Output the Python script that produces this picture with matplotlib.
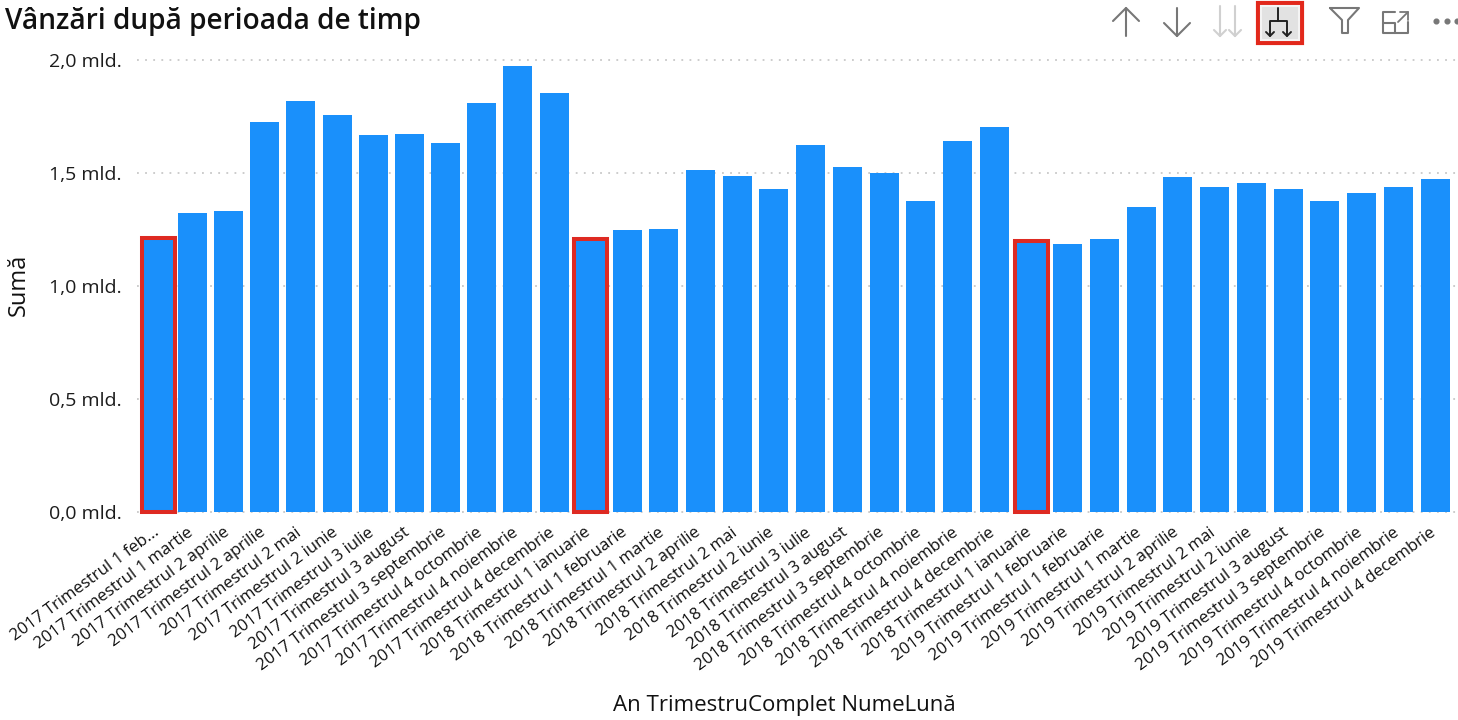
import matplotlib
matplotlib.use("Agg")
import matplotlib.pyplot as plt
from matplotlib.patches import Rectangle
import numpy as np

plt.rcParams['font.family'] = ['Open Sans', 'DejaVu Sans']

months_2017 = ["2017 Trimestrul 1 feb...", "2017 Trimestrul 1 martie", "2017 Trimestrul 2 aprilie",
               "2017 Trimestrul 2 aprilie", "2017 Trimestrul 2 mai", "2017 Trimestrul 2 iunie",
               "2017 Trimestrul 3 iulie", "2017 Trimestrul 3 august", "2017 Trimestrul 3 septembrie",
               "2017 Trimestrul 4 octombrie", "2017 Trimestrul 4 noiembrie", "2017 Trimestrul 4 decembrie"]
months_2018 = ["2018 Trimestrul 1 ianuarie", "2018 Trimestrul 1 februarie", "2018 Trimestrul 1 martie",
               "2018 Trimestrul 2 aprilie", "2018 Trimestrul 2 mai", "2018 Trimestrul 2 iunie",
               "2018 Trimestrul 3 iulie", "2018 Trimestrul 3 august", "2018 Trimestrul 3 septembrie",
               "2018 Trimestrul 4 octombrie", "2018 Trimestrul 4 noiembrie", "2018 Trimestrul 4 decembrie"]
months_2019 = ["2018 Trimestrul 1 ianuarie", "2019 Trimestrul 1 februarie", "2019 Trimestrul 1 februarie",
               "2019 Trimestrul 1 martie", "2019 Trimestrul 2 aprilie", "2019 Trimestrul 2 mai",
               "2019 Trimestrul 2 iunie", "2019 Trimestrul 3 august", "2019 Trimestrul 3 septembrie",
               "2019 Trimestrul 4 octombrie", "2019 Trimestrul 4 noiembrie", "2019 Trimestrul 4 decembrie"]
sales_2017 = [1.212, 1.323, 1.332, 1.726, 1.819, 1.757, 1.668, 1.673, 1.633, 1.810, 1.973, 1.854]
sales_2018 = [1.208, 1.248, 1.252, 1.513, 1.487, 1.429, 1.624, 1.527, 1.500, 1.376, 1.642, 1.704]
sales_2019 = [1.200, 1.186, 1.208, 1.350, 1.482, 1.438, 1.456, 1.429, 1.376, 1.410, 1.438, 1.473]
highlighted = [0, 12, 24]
y_ticks = [0.0, 0.5, 1.0, 1.5, 2.0]
y_labels = ["0,0 mld.", "0,5 mld.", "1,0 mld.", "1,5 mld.", "2,0 mld."]

labels = months_2017 + months_2018 + months_2019
values = sales_2017 + sales_2018 + sales_2019
W, H = 1458, 720
fig = plt.figure(figsize=(W / 100, H / 100), dpi=100, facecolor='white')
L, R, T, B = 137, 1458, 60, 512
ax = fig.add_axes([L / W, 1 - B / H, (R - L) / W, (B - T) / H])
# the x axis runs in pixels, because the reference's bar spacing is slightly uneven
xs = np.interp(np.arange(len(values)), [0, 1, 12, 35], [158.5, 192.5, 590.3, 1435])
ax.bar(xs, values, width=29, color='#1A90FB', zorder=3)
ax.bar(xs[highlighted], [values[i] for i in highlighted], width=33, fill=False,
       edgecolor='#DE2A22', linewidth=2.9, zorder=4, clip_on=False)
ax.set_xlim(L, R)
ax.set_ylim(0, 2.0)
ax.set_yticks(y_ticks, y_labels, fontsize=14, color='#1c1c1c')
ax.set_xticks(xs - 6, labels, fontsize=12.1, rotation=36.5, ha='right', va='top',
              rotation_mode='anchor', color='#111111')
ax.tick_params(axis='both', length=0)
ax.tick_params(axis='y', pad=11)
ax.tick_params(axis='x', pad=9)
ax.grid(axis='y', color='#C8C8C8', linestyle=(0, (1, 3.5)), linewidth=1.3, zorder=0, clip_on=False)
ax.xaxis.grid(False)
ax.set_axisbelow(True)
for s in ax.spines.values():
    s.set_visible(False)

fig.text(5 / W, 1 - 21 / H, "Vânzări după perioada de timp", fontsize=20.2, va='center', ha='left',
         color='#111111', fontweight='semibold')
fig.text(19 / W, 1 - 285 / H, "Sumă", fontsize=17, rotation=90, va='center', ha='center', color='#111111')
fig.text(784 / W, 1 - 706 / H, "An TrimestruComplet NumeLună", fontsize=16, va='center', ha='center', color='#111111')

# toolbar icons, in pixel coordinates
ov = fig.add_axes([0, 0, 1, 1], facecolor='none')
ov.set_xlim(0, W)
ov.set_ylim(H, 0)
ov.axis('off')
def ln(xx, yy, c='#777777', lw=1.5):
    ov.plot(xx, yy, color=c, lw=lw, solid_capstyle='round', solid_joinstyle='round')
def arrow_up(x, y0, y1, d, c='#777777', lw=1.5):
    ln([x, x], [y0, y1], c, lw); ln([x - d, x, x + d], [y1 + d, y1, y1 + d], c, lw)
def arrow_down(x, y0, y1, d, c='#777777', lw=1.5):
    ln([x, x], [y0, y1], c, lw); ln([x - d, x, x + d], [y1 - d, y1, y1 - d], c, lw)
arrow_up(1126, 36, 8, 13)
arrow_down(1177, 8, 36, 13)
arrow_down(1220, 6, 36, 6, '#D0D0D0')
arrow_down(1235, 6, 36, 6, '#D0D0D0')
ov.add_patch(Rectangle((1258, 3), 44, 40, facecolor='#E2E2E2', edgecolor='#E2281B', lw=3))
ov.add_patch(Rectangle((1261, 6), 38, 34, facecolor='none', edgecolor='#F4F4F4', lw=1.5))
ln([1278, 1278], [8, 21], '#222222', 1.4)
ln([1270, 1270, 1287, 1287], [36, 21, 21, 36], '#222222', 1.4)
ln([1266, 1270, 1274], [32, 36, 32], '#222222', 1.4)
ln([1283, 1287, 1291], [32, 36, 32], '#222222', 1.4)
ln([1330, 1359, 1348, 1348, 1342, 1342, 1330], [8, 8, 20, 33, 33, 20, 8], '#777777', 1.5)
ln([1395, 1383, 1383, 1408, 1408], [12, 12, 33, 33, 22], '#777777', 1.5)
ln([1383, 1395, 1395], [23, 23, 33], '#777777', 1.5)
ln([1398, 1408], [22, 12], '#777777', 1.3)
ln([1400, 1408, 1408], [12, 12, 20], '#777777', 1.3)
ov.plot([1436, 1447, 1457], [21, 21, 21], ls='none', marker='o', ms=3.4, color='#777777', clip_on=False)

fig.savefig('out.png', dpi=100)
